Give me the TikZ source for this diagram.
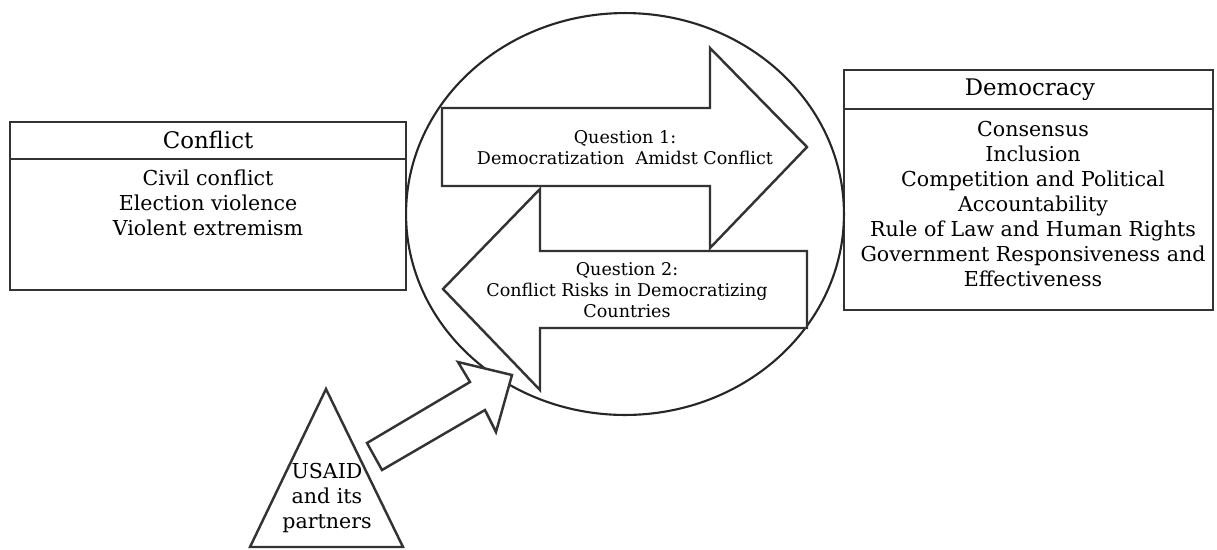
\documentclass[tikz,border=0pt]{standalone}
\usepackage{fontspec}
\setmainfont{DejaVu Serif}
\usetikzlibrary{positioning,shapes.geometric}
\tikzset{
  frame/.style={draw=black!80, line width=1.5pt},
  ring/.style={draw=black!85, line width=1.2pt},
  blockarrow/.style={draw=black!80, line width=1.4pt, fill=white, line join=miter},
  headtext/.style={align=center, inner sep=0pt, font=\fontsize{13}{15}\selectfont},
  boxtext/.style={align=center, inner sep=0pt, font=\fontsize{11.7}{14.2}\selectfont},
  qtext/.style={align=center, inner sep=0pt, font=\fontsize{10}{12}\selectfont},
}

\begin{document}
\begin{tikzpicture}[x=0.02cm, y=-0.02cm]
  \useasboundingbox (0,0) rectangle (1217,549);

  % Conflict box
  \draw[frame] (10,122) rectangle (406,290);
  \draw[frame] (10,159) -- (406,159);
  \node[headtext] (conflict) at (208,140) {Conflict};
  \node[boxtext] (conflictlist) at (208,203)
    {Civil conflict\\Election violence\\Violent extremism};

  % Democracy box
  \draw[frame] (844,70) rectangle (1213,310);
  \draw[frame] (844,109) -- (1213,109);
  \node[headtext] (democracy) at (1030,90) {Democracy};
  \node[boxtext] (democracylist) at (1033,204)
    {Consensus\\Inclusion\\Competition and Political\\Accountability\\
     Rule of Law and Human Rights\\Government Responsiveness and\\Effectiveness};

  % research circle
  \node[ring, ellipse, minimum width=8.76cm, minimum height=8.04cm,
    inner sep=0pt] (research) at (625,214) {};

  % Question 1 arrow (to the right)
  \draw[blockarrow] (442,108) -- (710,108) -- (710,48) -- (807,147)
    -- (710,248) -- (710,186) -- (442,186) -- cycle;
  \node[qtext] (q1) at (625,147.5) {Question 1:\\Democratization\ \ Amidst Conflict};

  % Question 2 arrow (to the left)
  \draw[blockarrow] (807,251) -- (540,251) -- (540,189) -- (443,289)
    -- (540,390) -- (540,328) -- (807,328) -- cycle;
  \node[qtext] (q2) at (627,290.5)
    {Question 2:\\Conflict Risks in Democratizing\\Countries};

  % USAID triangle
  \coordinate (apex) at (326,389);
  \draw[blockarrow] (apex) -- (403,547) -- (250,547) -- cycle;
  \node[boxtext] (usaid) at (327,498) {USAID\\and its\\partners};

  % USAID arrow into the circle
  \draw[blockarrow] (367,443) -- (470,382) -- (458,362) -- (512,375)
    -- (496,432) -- (485,410) -- (382,470) -- cycle;
\end{tikzpicture}
\end{document}
